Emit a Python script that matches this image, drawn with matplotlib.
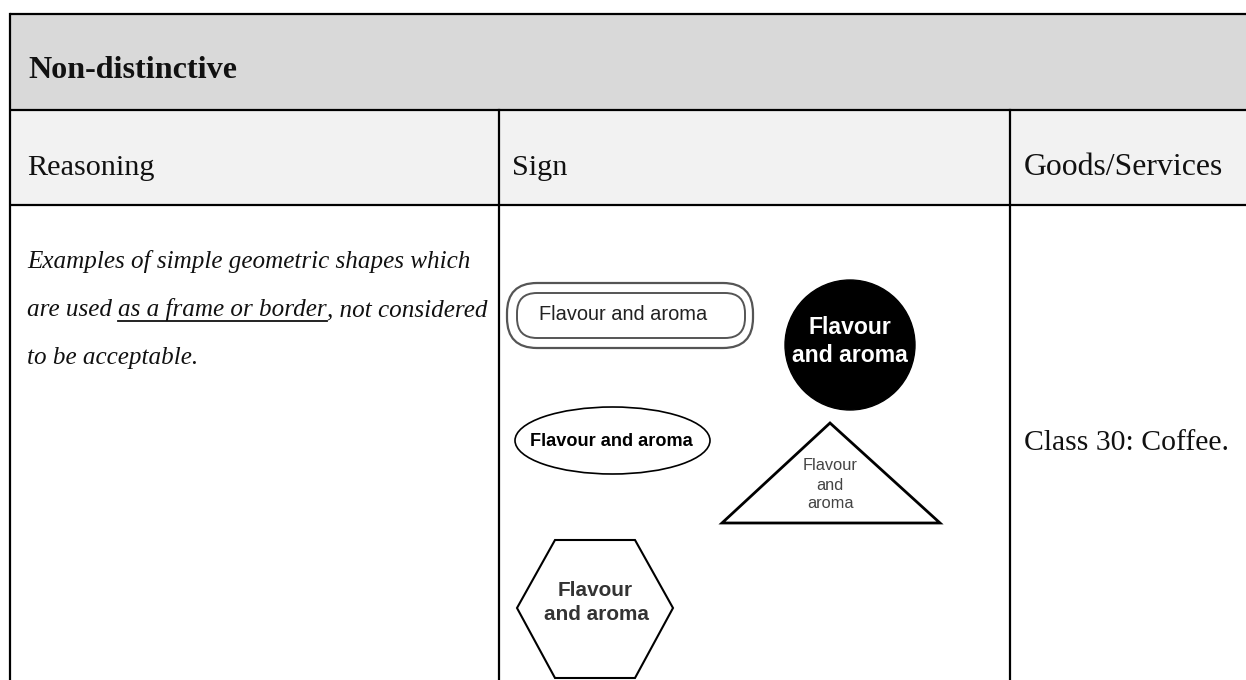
import matplotlib
matplotlib.use("Agg")
import matplotlib.pyplot as plt
from matplotlib.patches import Rectangle, Circle, Ellipse, Polygon, FancyBboxPatch

# ---- content ----
title = "Non-distinctive"
col_headers = ["Reasoning", "Sign", "Goods/Services"]
reasoning_lines = ["Examples of simple geometric shapes which",
                   "are used ", "as a frame or border", ", not considered",
                   "to be acceptable."]
goods_text = "Class 30: Coffee."
sign_label = "Flavour and aroma"
sign_label_2line = ["Flavour", "and aroma"]
sign_label_3line = ["Flavour", "and", "aroma"]

W, H = 1246, 680
fig = plt.figure(figsize=(W / 100, H / 100), dpi=100)
ax = fig.add_axes([0, 0, 1, 1])
ax.set_xlim(0, W)
ax.set_ylim(H, 0)
ax.axis("off")
renderer = fig.canvas.get_renderer()

SERIF = ["Liberation Serif", "DejaVu Serif"]
SANS = ["Liberation Sans", "DejaVu Sans"]

def width_of(t):
    return t.get_window_extent(renderer).width

def fit(t, target):
    t.set_fontsize(t.get_fontsize() * target / width_of(t))
    return t

# ---- table backgrounds ----
L, X1, X2, R = 10, 499, 1010, W + 5
Y0, Y1, Y2 = 14, 110, 205
ax.add_patch(Rectangle((L, Y0), R - L, Y1 - Y0, facecolor="#d9d9d9", edgecolor="none"))
ax.add_patch(Rectangle((L, Y1), R - L, Y2 - Y1, facecolor="#f2f2f2", edgecolor="none"))
lw = 1.6
for y in (Y0, Y1, Y2):
    ax.plot([L, R], [y, y], color="black", lw=lw, solid_capstyle="butt")
ax.plot([L, L], [Y0, H + 5], color="black", lw=lw)
for x in (X1, X2):
    ax.plot([x, x], [Y1, H + 5], color="black", lw=lw)

# ---- header texts ----
t = ax.text(28, 78, title, family=SERIF, fontweight="bold", fontsize=20,
            ha="left", va="baseline", color="#111")
fit(t, 209)

t0 = ax.text(27, 175, col_headers[0], family=SERIF, fontsize=20, ha="left", va="baseline", color="#111")
fit(t0, 128)
hs = t0.get_fontsize()
ax.text(512, 175, col_headers[1], family=SERIF, fontsize=hs, ha="left", va="baseline", color="#111")
t2 = ax.text(1024, 175, col_headers[2], family=SERIF, fontsize=20, ha="left", va="baseline", color="#111")
fit(t2, 199)

# ---- reasoning (italic) ----
base = [268, 316, 364]

def tw(s, fs):
    tmp = ax.text(0, 0, s, family=SERIF, style="italic", fontsize=fs)
    w = width_of(tmp)
    tmp.remove()
    return w

fs0 = 20
w_line1 = tw(reasoning_lines[0], fs0)
w_line2 = tw(reasoning_lines[1] + reasoning_lines[2] + reasoning_lines[3], fs0)
fs = fs0 * min(456 / w_line1, 458 / w_line2)

ax.text(27, base[0], reasoning_lines[0], family=SERIF, style="italic",
        fontsize=fs, ha="left", va="baseline", color="#111")
space_w = tw("a a", fs) - tw("aa", fs)
x = 27
p1 = ax.text(x, base[1], reasoning_lines[1].strip(), family=SERIF, style="italic",
             fontsize=fs, ha="left", va="baseline", color="#111")
x += width_of(p1) + space_w
p2 = ax.text(x, base[1], reasoning_lines[2], family=SERIF, style="italic",
             fontsize=fs, ha="left", va="baseline", color="#111")
w2 = width_of(p2)
ax.plot([x, x + w2], [base[1] + 5, base[1] + 5], color="#111", lw=1.3)
x += w2
ax.text(x, base[1], reasoning_lines[3], family=SERIF, style="italic",
        fontsize=fs, ha="left", va="baseline", color="#111")
ax.text(27, base[2], reasoning_lines[4], family=SERIF, style="italic",
        fontsize=fs, ha="left", va="baseline", color="#111")

# ---- goods ----
g = ax.text(1024, 450, goods_text, family=SERIF, fontsize=20, ha="left", va="baseline", color="#111")
fit(g, 205)

# ---- signs ----
# double rounded frame
ax.add_patch(FancyBboxPatch((507, 283), 246, 65, boxstyle="round,pad=0,rounding_size=30",
                            facecolor="white", edgecolor="#555", lw=1.6))
ax.add_patch(FancyBboxPatch((517, 293), 228, 45, boxstyle="round,pad=0,rounding_size=20",
                            facecolor="white", edgecolor="#555", lw=1.4))
s1 = ax.text(623, 315, sign_label, family=SANS, fontsize=14, ha="center", va="center", color="#222")
fit(s1, 170)

# black circle
ax.add_patch(Circle((850, 345), 65, facecolor="black", edgecolor="black"))
c2 = ax.text(850, 356, sign_label_2line[1], family=SANS, fontweight="bold", fontsize=16,
             ha="center", va="center", color="white")
fit(c2, 116)
ax.text(850, 328, sign_label_2line[0], family=SANS, fontweight="bold", fontsize=c2.get_fontsize(),
        ha="center", va="center", color="white")

# ellipse
ax.add_patch(Ellipse((612.5, 440.5), 195, 67, facecolor="white", edgecolor="black", lw=1.2))
e = ax.text(611, 441, sign_label, family=SANS, fontweight="bold", fontsize=13,
            ha="center", va="center", color="black")
fit(e, 162)

# triangle
ax.add_patch(Polygon([(722, 523), (830, 423), (940, 523)], closed=True,
                     facecolor="white", edgecolor="black", lw=2.0))
tri_y = [465, 485, 503]
tt = ax.text(830, tri_y[0], sign_label_3line[0], family=SANS, fontsize=12,
             ha="center", va="center", color="#444")
fit(tt, 55)
for lab, yy in zip(sign_label_3line[1:], tri_y[1:]):
    ax.text(830, yy, lab, family=SANS, fontsize=tt.get_fontsize(),
            ha="center", va="center", color="#444")

# hexagon
ax.add_patch(Polygon([(555, 540), (635, 540), (673, 608), (635, 678), (555, 678), (517, 608)],
                     closed=True, facecolor="white", edgecolor="black", lw=1.5))
h2 = ax.text(597, 615, sign_label_2line[1], family=SANS, fontweight="bold", fontsize=15,
             ha="center", va="center", color="#333")
fit(h2, 105)
ax.text(595, 590, sign_label_2line[0], family=SANS, fontweight="bold", fontsize=h2.get_fontsize(),
        ha="center", va="center", color="#333")

fig.savefig("out.png", dpi=100, facecolor="white")
